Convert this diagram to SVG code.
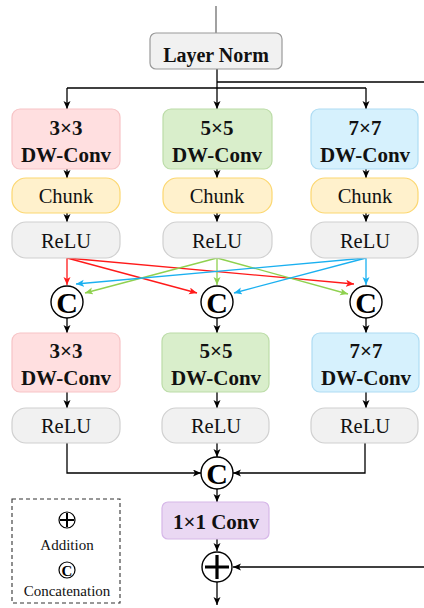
<svg xmlns="http://www.w3.org/2000/svg" width="424" height="608" viewBox="0 0 424 608">
  <defs>
    <marker id="ah" markerUnits="userSpaceOnUse" markerWidth="9" markerHeight="8" refX="8" refY="3.5" orient="auto">
      <path d="M0,0 L8,3.5 L0,7 L2,3.5 z" fill="#000"/>
    </marker>
    <marker id="ah-r" markerUnits="userSpaceOnUse" markerWidth="9" markerHeight="8" refX="8" refY="3.5" orient="auto">
      <path d="M0,0 L8,3.5 L0,7 L2,3.5 z" fill="#ff1a1a"/>
    </marker>
    <marker id="ah-g" markerUnits="userSpaceOnUse" markerWidth="9" markerHeight="8" refX="8" refY="3.5" orient="auto">
      <path d="M0,0 L8,3.5 L0,7 L2,3.5 z" fill="#8fd14f"/>
    </marker>
    <marker id="ah-b" markerUnits="userSpaceOnUse" markerWidth="9" markerHeight="8" refX="8" refY="3.5" orient="auto">
      <path d="M0,0 L8,3.5 L0,7 L2,3.5 z" fill="#1ab0f0"/>
    </marker>
  </defs>
  <style>
    text { font-family: 'Liberation Serif', 'Tinos', 'DejaVu Serif', serif; }
    .lbl { text-anchor: middle; fill: #111; }
    .b { font-weight: bold; font-size: 21px; }
    .n { font-size: 20.5px; }
    .leg { font-size: 15px; }
    .red { fill: #ffdfe0; stroke: #f7c4c6; stroke-width: 1.2; }
    .grn { fill: #d9eecb; stroke: #bcdca8; stroke-width: 1.2; }
    .blu { fill: #d6f1fd; stroke: #aedcf3; stroke-width: 1.2; }
    .yel { fill: #fff1cc; stroke: #fcd770; stroke-width: 1.2; }
    .gry { fill: #f1f1f1; stroke: #d0d0d0; stroke-width: 1.2; }
    .pur { fill: #ead8f3; stroke: #d6b7e8; stroke-width: 1.2; }
    .ln { fill: #f1f1f1; stroke: #9a9a9a; stroke-width: 1.2; }
    .op { fill: #fff; stroke: #000; stroke-width: 1.4; }
    .cg { font-weight: bold; text-anchor: middle; fill: #000; }
    .cbig { font-size: 30px; }
    .k { fill: none; stroke: #000; stroke-width: 1.3; }
    .kr { fill: none; stroke: #ff1a1a; stroke-width: 1.3; marker-end: url(#ah-r); }
    .kg { fill: none; stroke: #8fd14f; stroke-width: 1.3; marker-end: url(#ah-g); }
    .kb { fill: none; stroke: #1ab0f0; stroke-width: 1.3; marker-end: url(#ah-b); }
    .a { marker-end: url(#ah); }
  </style>

  <!-- connectors -->
  <g id="connectors">
    <line x1="216" y1="6" x2="216" y2="33" stroke="#555" stroke-width="1.1"/>
    <path class="k" d="M217,82 H424"/>
    <path class="k" d="M217,69 V82"/>
    <path class="k a" d="M217,82 V109"/>
    <path class="k" d="M67,88 H366"/>
    <path class="k a" d="M67,88 V109"/>
    <path class="k a" d="M366,88 V109"/>

    <path class="k a" d="M67,169 V178"/>
    <path class="k a" d="M217,169 V178"/>
    <path class="k a" d="M366,169 V178"/>
    <path class="k a" d="M67,213 V222"/>
    <path class="k a" d="M217,213 V222"/>
    <path class="k a" d="M366,213 V222"/>

    <!-- cross connections between branches -->
    <path class="kr" d="M67,258 V285"/>
    <path class="kr" d="M67,258 L197,293"/>
    <path class="kr" d="M67,258 L354,284"/>
    <path class="kg" d="M217,258 L85,293"/>
    <path class="kg" d="M217,258 V285"/>
    <path class="kg" d="M217,258 L348,294"/>
    <path class="kb" d="M366,258 L76,284"/>
    <path class="kb" d="M366,258 L234,293"/>
    <path class="kb" d="M366,258 V285"/>

    <path class="k a" d="M67,318 V333"/>
    <path class="k a" d="M217,318 V333"/>
    <path class="k a" d="M366,318 V333"/>
    <path class="k a" d="M67,392 V408"/>
    <path class="k a" d="M217,392 V408"/>
    <path class="k a" d="M366,392 V408"/>

    <path class="k a" d="M67,443 V473 H201"/>
    <path class="k a" d="M365,443 V473 H233"/>
    <path class="k a" d="M217,443 V457"/>
    <path class="k a" d="M217,489 V502"/>
    <path class="k a" d="M217,539 V551"/>
    <path class="k a" d="M424,567 H233"/>
    <path class="k a" d="M217,582 V605"/>
  </g>

  <g id="layer-norm">
    <rect class="ln" x="150" y="33" width="132" height="36" rx="6"/>
    <text class="lbl b" x="216" y="62" style="font-size:20px">Layer Norm</text>
  </g>

  <!-- first depth-wise branch -->
  <g id="dw3-a">
    <rect class="red" x="12" y="109" width="108" height="60" rx="8"/>
    <text class="lbl b" x="66" y="135">3×3</text>
    <text class="lbl b" x="66" y="162">DW-Conv</text>
  </g>
  <g id="dw5-a">
    <rect class="grn" x="163" y="109" width="109" height="60" rx="8"/>
    <text class="lbl b" x="217" y="135">5×5</text>
    <text class="lbl b" x="217" y="162">DW-Conv</text>
  </g>
  <g id="dw7-a">
    <rect class="blu" x="311" y="109" width="107" height="60" rx="8"/>
    <text class="lbl b" x="365" y="135">7×7</text>
    <text class="lbl b" x="365" y="162">DW-Conv</text>
  </g>

  <g id="chunk-1">
    <rect class="yel" x="12" y="178" width="108" height="35" rx="14"/>
    <text class="lbl n" x="66" y="203">Chunk</text>
  </g>
  <g id="chunk-2">
    <rect class="yel" x="163" y="178" width="109" height="35" rx="14"/>
    <text class="lbl n" x="217" y="203">Chunk</text>
  </g>
  <g id="chunk-3">
    <rect class="yel" x="311" y="178" width="107" height="35" rx="14"/>
    <text class="lbl n" x="365" y="203">Chunk</text>
  </g>

  <g id="relu-1a">
    <rect class="gry" x="12" y="222" width="108" height="36" rx="14"/>
    <text class="lbl n" x="66" y="248">ReLU</text>
  </g>
  <g id="relu-2a">
    <rect class="gry" x="163" y="222" width="109" height="36" rx="14"/>
    <text class="lbl n" x="217" y="248">ReLU</text>
  </g>
  <g id="relu-3a">
    <rect class="gry" x="311" y="222" width="107" height="36" rx="14"/>
    <text class="lbl n" x="365" y="248">ReLU</text>
  </g>

  <!-- concatenation nodes -->
  <g id="concat-1">
    <circle class="op" cx="67" cy="302" r="16"/>
    <text class="cg cbig" x="67" y="312.5">C</text>
  </g>
  <g id="concat-2">
    <circle class="op" cx="217" cy="302" r="16"/>
    <text class="cg cbig" x="217" y="312.5">C</text>
  </g>
  <g id="concat-3">
    <circle class="op" cx="366" cy="302" r="16"/>
    <text class="cg cbig" x="366" y="312.5">C</text>
  </g>

  <!-- second depth-wise branch -->
  <g id="dw3-b">
    <rect class="red" x="12" y="333" width="108" height="59" rx="8"/>
    <text class="lbl b" x="66" y="358">3×3</text>
    <text class="lbl b" x="66" y="385">DW-Conv</text>
  </g>
  <g id="dw5-b">
    <rect class="grn" x="162" y="333" width="107" height="59" rx="8"/>
    <text class="lbl b" x="216" y="358">5×5</text>
    <text class="lbl b" x="216" y="385">DW-Conv</text>
  </g>
  <g id="dw7-b">
    <rect class="blu" x="312" y="333" width="107" height="59" rx="8"/>
    <text class="lbl b" x="366" y="358">7×7</text>
    <text class="lbl b" x="366" y="385">DW-Conv</text>
  </g>

  <g id="relu-1b">
    <rect class="gry" x="12" y="408" width="108" height="35" rx="14"/>
    <text class="lbl n" x="66" y="433">ReLU</text>
  </g>
  <g id="relu-2b">
    <rect class="gry" x="162" y="408" width="107" height="35" rx="14"/>
    <text class="lbl n" x="216" y="433">ReLU</text>
  </g>
  <g id="relu-3b">
    <rect class="gry" x="311" y="408" width="107" height="35" rx="14"/>
    <text class="lbl n" x="365" y="433">ReLU</text>
  </g>

  <g id="concat-out">
    <circle class="op" cx="217" cy="473" r="16"/>
    <text class="cg cbig" x="217" y="483.5">C</text>
  </g>

  <g id="conv1x1">
    <rect class="pur" x="162" y="502" width="107" height="37" rx="6"/>
    <text class="lbl b" x="216" y="529">1×1 Conv</text>
  </g>

  <g id="add">
    <circle class="op" cx="217" cy="567" r="15"/>
    <path d="M205,567 H229 M217,555 V579" stroke="#000" stroke-width="3.2"/>
  </g>

  <!-- legend -->
  <g id="legend">
    <rect x="12" y="499" width="108" height="104" fill="none" stroke="#333" stroke-width="1.1" stroke-dasharray="4,3"/>
    <circle cx="67" cy="520" r="8" fill="#fff" stroke="#000" stroke-width="1.2"/>
    <path d="M60,520 H74 M67,513 V527" stroke="#000" stroke-width="2"/>
    <text class="lbl leg" x="67" y="550">Addition</text>
    <circle cx="67" cy="570" r="8" fill="#fff" stroke="#000" stroke-width="1.2"/>
    <text class="cg" x="67" y="575.5" style="font-size:15px">C</text>
    <text class="lbl leg" x="67" y="596">Concatenation</text>
  </g>
</svg>
